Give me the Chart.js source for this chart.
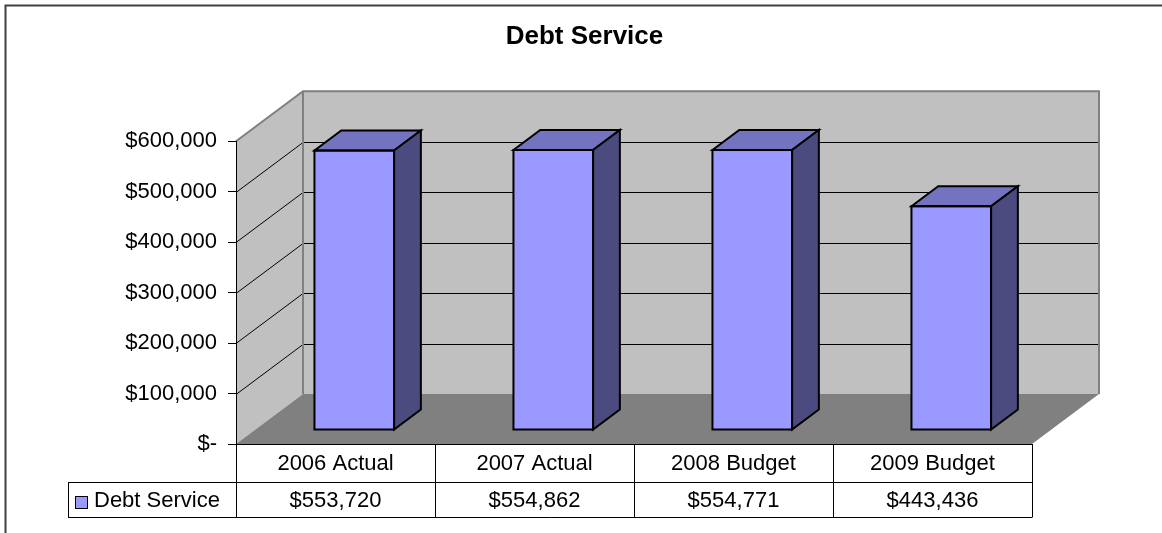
<!DOCTYPE html>
<html lang="en">
<head>
<meta charset="UTF-8">
<title>Debt Service</title>
<script src="https://cdn.jsdelivr.net/npm/chart.js"></script>
<style>
    * { margin: 0; padding: 0; box-sizing: border-box; }
    body { background: white; }
    #wrap { width: 1162px; height: 533px; }
</style>
</head>
<body>
<div id="wrap"><canvas id="debtChart"></canvas></div>

<script>
// Debt service by year
var years = ["2006 Actual", "2007 Actual", "2008 Budget", "2009 Budget"];
var debtService = [553720, 554862, 554771, 443436];
var tickValues = [0, 100000, 200000, 300000, 400000, 500000, 600000];
var seriesName = "Debt Service";

var FONT = "'Liberation Sans', Arial, sans-serif";
var DX = 67, DY = -50;                 // front-to-back offset of the 3d box
var BAR_FRONT = 0.28, BAR_DEPTH = 0.4; // where the columns sit inside the box

function money(v) {
    return v === 0 ? "$-" : "$" + v.toLocaleString("en-US");
}

function poly(ctx, pts) {
    ctx.beginPath();
    ctx.moveTo(pts[0][0], pts[0][1]);
    for (var i = 1; i < pts.length; i++) ctx.lineTo(pts[i][0], pts[i][1]);
    ctx.closePath();
}

function line(ctx, x1, y1, x2, y2) {
    ctx.beginPath();
    ctx.moveTo(x1, y1);
    ctx.lineTo(x2, y2);
    ctx.stroke();
}

// walls, floor, 3d columns and the data table underneath
var box3d = {
    id: "box3d",
    beforeDraw: function (chart) {
        var ctx = chart.ctx, a = chart.chartArea, ys = chart.scales.y;
        var L = a.left, R = a.right, T = a.top, B = a.bottom;
        ctx.save();
        ctx.fillStyle = "#fff";
        ctx.fillRect(0, 0, chart.width, chart.height);
        ctx.strokeStyle = "#404040";
        ctx.lineWidth = 2;
        ctx.strokeRect(5.5, 5.5, chart.width + 20, chart.height + 20);

        ctx.fillStyle = "#c0c0c0";
        ctx.fillRect(L + DX, T + DY, R - L, B - T);
        poly(ctx, [[L, T], [L + DX, T + DY], [L + DX, B + DY], [L, B]]);
        ctx.fill();
        ctx.fillStyle = "#808080";
        poly(ctx, [[L, B], [L + DX, B + DY], [R + DX, B + DY], [R, B]]);
        ctx.fill();

        ctx.strokeStyle = "#000";
        ctx.lineWidth = 1;
        ys.ticks.forEach(function (t) {
            if (t.value <= ys.min || t.value >= ys.max) return;
            var py = Math.round(ys.getPixelForValue(t.value)) + 0.5;
            ctx.beginPath();
            ctx.moveTo(L, py);
            ctx.lineTo(L + DX, py + DY);
            ctx.lineTo(R + DX, py + DY);
            ctx.stroke();
        });

        ctx.strokeStyle = "#808080";
        ctx.lineWidth = 2;
        ctx.beginPath();
        ctx.moveTo(L, T);
        ctx.lineTo(L + DX, T + DY);
        ctx.lineTo(R + DX, T + DY);
        ctx.lineTo(R + DX, B + DY);
        ctx.stroke();
        line(ctx, L + DX, T + DY, L + DX, B + DY);
        ctx.restore();
    },
    beforeDatasetsDraw: function (chart) {
        chart.ctx.save();
        chart.ctx.translate(DX * BAR_FRONT, DY * BAR_FRONT);
    },
    afterDatasetsDraw: function (chart) {
        var ctx = chart.ctx;
        var dx = DX * BAR_DEPTH, dy = DY * BAR_DEPTH;
        ctx.strokeStyle = "#000";
        ctx.lineWidth = 2;
        chart.getDatasetMeta(0).data.forEach(function (bar) {
            var x0 = bar.x - bar.width / 2, x1 = bar.x + bar.width / 2;
            var top = bar.y, base = bar.base;
            poly(ctx, [[x0, top], [x0 + dx, top + dy], [x1 + dx, top + dy], [x1, top]]);
            ctx.fillStyle = "#7373bf";
            ctx.fill();
            ctx.stroke();
            poly(ctx, [[x1, top], [x1 + dx, top + dy], [x1 + dx, base + dy], [x1, base]]);
            ctx.fillStyle = "#4b4b80";
            ctx.fill();
            ctx.stroke();
            ctx.strokeRect(x0, top, x1 - x0, base - top);
        });
        ctx.restore();
    },
    afterDraw: function (chart) {
        var ctx = chart.ctx, a = chart.chartArea, xs = chart.scales.x;
        var colW = (a.right - a.left) / years.length;
        var top = Math.round(a.bottom), mid = top + 38, bot = mid + 35;
        var keyLeft = 68;
        ctx.save();
        ctx.strokeStyle = "#000";
        ctx.lineWidth = 1;
        line(ctx, a.left, top + 0.5, a.right, top + 0.5);
        line(ctx, keyLeft, mid + 0.5, a.right, mid + 0.5);
        line(ctx, keyLeft, bot + 0.5, a.right + 0.5, bot + 0.5);
        line(ctx, keyLeft + 0.5, mid, keyLeft + 0.5, bot);
        for (var i = 0; i <= years.length; i++) {
            var vx = Math.round(a.left + i * colW) + 0.5;
            line(ctx, vx, top, vx, bot);
        }

        ctx.fillStyle = "#000";
        ctx.font = "22px " + FONT;
        ctx.textAlign = "center";
        ctx.textBaseline = "middle";
        years.forEach(function (c, i) {
            var cx = xs.getPixelForValue(i);
            ctx.fillText(c, cx, (top + mid) / 2 + 1);
            ctx.fillText(money(debtService[i]), cx, (mid + bot) / 2 + 1);
        });

        ctx.fillStyle = "#9999ff";
        ctx.fillRect(75.5, 496.5, 12, 12);
        ctx.strokeRect(75.5, 496.5, 12, 12);
        ctx.fillStyle = "#000";
        ctx.textAlign = "left";
        ctx.fillText(seriesName, 94, (mid + bot) / 2 + 1);
        ctx.restore();
    }
};

var ctx = document.getElementById("debtChart").getContext("2d");
var chart = new Chart(ctx, {
    type: "bar",
    data: {
        labels: years,
        datasets: [{
            label: seriesName,
            data: debtService,
            backgroundColor: "#9999ff",
            borderWidth: 0,
            barPercentage: 0.4,
            categoryPercentage: 1.0,
            clip: false
        }]
    },
    options: {
        responsive: true,
        maintainAspectRatio: false,
        animation: false,
        layout: { padding: { left: 7, right: 0, top: 0, bottom: 89 } },
        plugins: {
            legend: { display: false },
            tooltip: { enabled: false },
            title: {
                display: true,
                text: "Debt Service",
                color: "#000",
                font: { family: FONT, size: 26, weight: "bold" },
                padding: { top: 21, bottom: 89 }
            }
        },
        scales: {
            x: { display: false },
            y: {
                min: 0,
                max: 600000,
                afterBuildTicks: function (s) {
                    s.ticks = tickValues.map(function (v) { return { value: v }; });
                },
                afterFit: function (s) { s.width = 229; },
                grid: { display: true, drawOnChartArea: false, tickLength: 8, color: "#000", lineWidth: 1 },
                border: { display: true, color: "#000", width: 1 },
                ticks: {
                    padding: 11,
                    color: "#000",
                    font: { family: FONT, size: 22 },
                    callback: function (v) { return money(v); }
                }
            },
            // empty strip on the right that leaves room for the box depth
            side: {
                type: "linear",
                position: "right",
                min: 0,
                max: 600000,
                grid: { display: false },
                border: { display: false },
                ticks: { display: false },
                afterFit: function (s) { s.width = 130; }
            }
        }
    },
    plugins: [box3d]
});
</script>
</body>
</html>
